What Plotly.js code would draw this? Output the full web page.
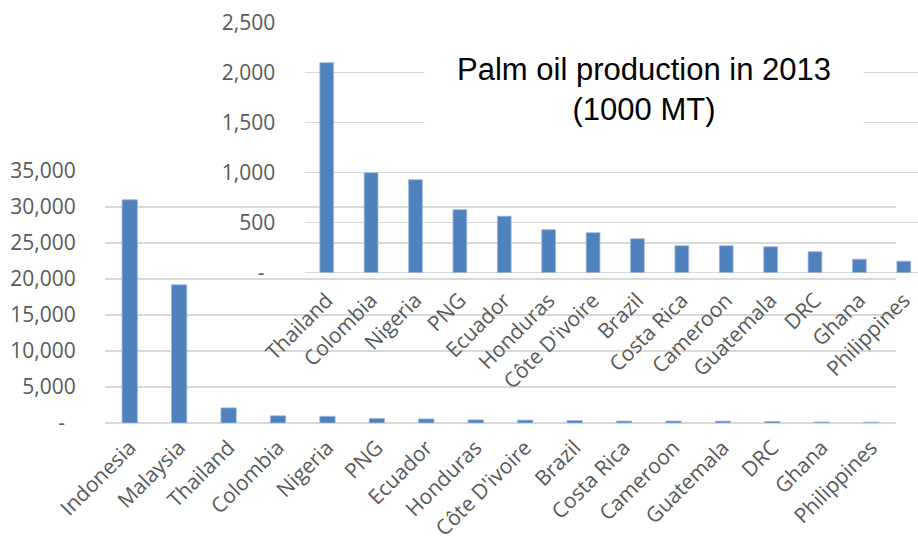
<!DOCTYPE html>
<html>
<head>
<meta charset="utf-8">
<script src="https://cdn.plot.ly/plotly-3.0.1.min.js"></script>
<style>html,body{margin:0;padding:0;background:#fff;}#chart{width:918px;height:540px;}</style>
</head>
<body>
<div id="chart"></div>
<script>
// Palm oil production in 2013 (1000 MT)
const countries = ["Indonesia", "Malaysia", "Thailand", "Colombia", "Nigeria", "PNG", "Ecuador", "Honduras",
  "Côte D'ivoire", "Brazil", "Costa Rica", "Cameroon", "Guatemala", "DRC", "Ghana", "Philippines"];
const production = [31000, 19200, 2100, 1000, 930, 630, 565, 430, 400, 340, 270, 270, 260, 210, 135, 115];

// inset: countries from Thailand onward
const insetStart = 2;
const insetCountries = countries.slice(insetStart);
const insetProduction = production.slice(insetStart);

const mainTickVals = [0, 5000, 10000, 15000, 20000, 25000, 30000, 35000];
const mainTickText = ["-\u00a0\u00a0", "5,000", "10,000", "15,000", "20,000", "25,000", "30,000", "35,000"];
const insetTickVals = [0, 500, 1000, 1500, 2000, 2500];
const insetTickText = ["-\u00a0\u00a0", "500", "1,000", "1,500", "2,000", "2,500"];

const titleText = "Palm oil production in 2013<br>(1000 MT)";

const barColor = "#4f81bd";
const barLine = "#9cb9de";
const gridColor = "#d9d9d9";
const tickFont = {family: "Open Sans, Noto Sans, sans-serif", size: 21, color: "#595959"};

const W = 918, H = 540;

const traces = [
  {
    type: "bar", x: countries, y: production, xaxis: "x", yaxis: "y",
    marker: {color: barColor, line: {color: barLine, width: 0.8}},
    hoverinfo: "x+y"
  },
  {
    type: "bar", x: insetCountries, y: insetProduction, xaxis: "x2", yaxis: "y2",
    marker: {color: barColor, line: {color: barLine, width: 0.8}},
    hoverinfo: "x+y"
  }
];

const layout = {
  width: W, height: H,
  margin: {l: 0, r: 0, t: 0, b: 0, pad: 0},
  paper_bgcolor: "#ffffff",
  plot_bgcolor: "rgba(0,0,0,0)",
  showlegend: false,
  bargap: 0.69,
  xaxis: {
    domain: [105 / W, 896 / W], anchor: "y",
    type: "category", tickangle: -45, tickfont: tickFont,
    showgrid: false, showline: false, zeroline: false,
    ticks: "outside", ticklen: 3, tickcolor: "rgba(0,0,0,0)", automargin: false,
    range: [-0.5, 15.5]
  },
  yaxis: {
    domain: [(H - 423) / H, (H - 171) / H], anchor: "x",
    range: [0, 35000], tickvals: mainTickVals, ticktext: mainTickText,
    tickfont: tickFont, showgrid: true, gridcolor: gridColor, gridwidth: 1.5,
    zeroline: true, zerolinecolor: gridColor, zerolinewidth: 1.5, showline: false,
    ticks: "outside", ticklen: 24, tickcolor: "rgba(0,0,0,0)", automargin: false
  },
  xaxis2: {
    domain: [304.5 / W, 1], anchor: "y2",
    type: "category", tickangle: -45, tickfont: tickFont,
    showgrid: false, showline: false, zeroline: false,
    ticks: "outside", ticklen: 6, tickcolor: "rgba(0,0,0,0)", automargin: false,
    range: [-0.5, 13.32]
  },
  yaxis2: {
    domain: [(H - 272.7) / H, (H - 22.7) / H], anchor: "x2",
    range: [0, 2500], tickvals: insetTickVals, ticktext: insetTickText,
    tickfont: tickFont, showgrid: true, gridcolor: gridColor, gridwidth: 1.5,
    zeroline: true, zerolinecolor: gridColor, zerolinewidth: 1.5, showline: false,
    ticks: "outside", ticklen: 24, tickcolor: "rgba(0,0,0,0)", automargin: false
  },
  annotations: [{
    text: titleText, xref: "paper", yref: "paper",
    x: 644 / W, y: (H - 89) / H, xanchor: "center", yanchor: "middle",
    showarrow: false, align: "center",
    font: {family: "Liberation Sans, Arial, sans-serif", size: 31, color: "#000000"},
    bgcolor: "#ffffff", width: 420, borderpad: 9
  }]
};

Plotly.newPlot("chart", traces, layout, {displayModeBar: false, staticPlot: true});
</script>
</body>
</html>
